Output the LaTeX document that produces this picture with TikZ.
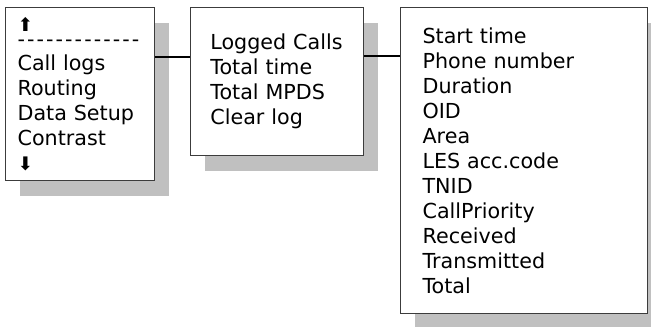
\documentclass[tikz,border=0pt]{standalone}
\usepackage{fontspec}
\setmainfont{DejaVu Sans}
\usetikzlibrary{positioning, shadows}
\definecolor{framegray}{RGB}{60,60,60}
\definecolor{shadowgray}{RGB}{192,192,192}

\begin{document}
\begin{tikzpicture}[x=0.75pt, y=-0.75pt,
  panel/.style={draw=framegray, line width=0.9pt, fill=white, anchor=north west,
    align=left, inner ysep=0pt, font=\fontsize{15.5}{18.75}\selectfont,
    drop shadow={shadow xshift=10.5pt, shadow yshift=-11.25pt,
                 fill=shadowgray, opacity=1}},
  link/.style={draw=black, line width=0.9pt}]
  \useasboundingbox (0,0) rectangle (651,327);

  % Menu boxes
  \node[panel, minimum height=129.75pt, text width=93.75pt, inner xsep=9pt]
    (menu) at (5,7)
    {{\fontsize{14}{14}\selectfont ⬆}\\[-7.5pt]
     {\addfontfeature{LetterSpace=10}-{}-{}-{}-{}-{}-{}-{}-{}-{}-{}-{}-{}-}\\[-1pt]
     Call logs\\ Routing\\ Data Setup\\ Contrast\\ {\fontsize{14}{14}\selectfont ⬇}};
  \node[panel, minimum height=111pt, text width=100pt, inner xsep=14.875pt]
    (calllogs) at (190,7)
    {Logged Calls\\ Total time\\ Total MPDS\\ Clear log};
  \node[panel, minimum height=229.5pt, text width=152.25pt, inner xsep=16.5pt]
    (fields) at (400,7)
    {Start time\\ Phone number\\ Duration\\ OID\\ Area\\ LES acc.code\\ TNID\\
     CallPriority\\ Received\\ Transmitted\\ Total};

  % Links
  \draw[link] ([yshift=-37.5pt]menu.north east) coordinate (m1) -- (m1 -| calllogs.west);
  \draw[link] ([yshift=-36.75pt]calllogs.north east) coordinate (c1) -- (c1 -| fields.west);
\end{tikzpicture}
\end{document}
